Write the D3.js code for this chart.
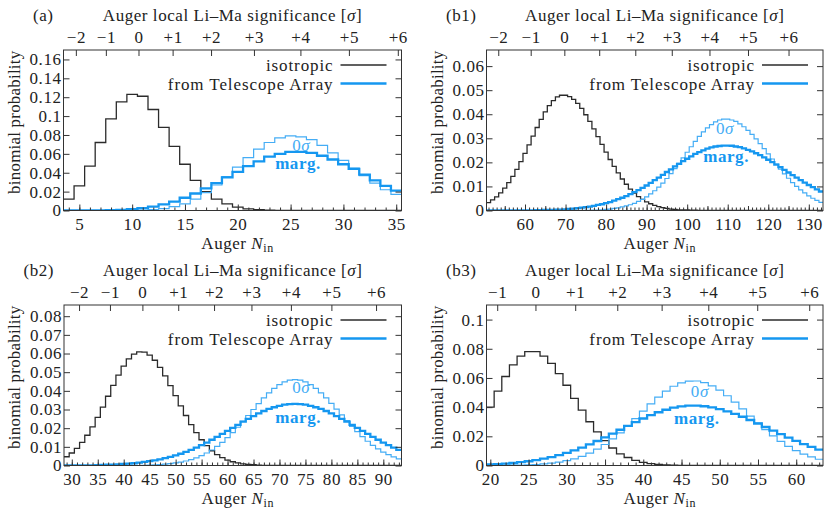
<!DOCTYPE html>
<html lang="en">
<head>
<meta charset="UTF-8">
<title>Auger N_in binomial probabilities</title>
<script src="https://d3js.org/d3.v7.min.js"></script>
<style>
  body { margin: 0; background: #fff; }
  svg text { font-family: "Liberation Serif", "DejaVu Serif", serif; font-size: 17px; letter-spacing: 0.55px; fill: #222; }
</style>
</head>
<body>
<svg id="chart" width="824" height="510"></svg>
<script>
// labels of the top (Li-Ma significance) axis, same in every panel
const sigmaLabels = ["−2", "−1", "0", "+1", "+2", "+3", "+4", "+5", "+6"];

// ---- panel (a): Auger N_in = 4 .. 35
const aFirstN = 4;
const aIso  = [0.012, 0.026, 0.047, 0.072, 0.097, 0.115, 0.123, 0.121, 0.107, 0.088, 0.068, 0.049, 0.032, 0.020, 0.012, 0.007,
               0.0035, 0.0017, 0.0008, 0.0003, 0.0001, 0, 0, 0, 0, 0, 0, 0, 0, 0, 0, 0];
const aZero = [0, 0, 0, 0, 0, 0, 0, 0.0004, 0.001, 0.002, 0.004, 0.007, 0.012, 0.019, 0.027, 0.036, 0.046, 0.056, 0.065, 0.072,
               0.077, 0.079, 0.078, 0.075, 0.069, 0.061, 0.053, 0.045, 0.037, 0.029, 0.022, 0.017];
const aMarg = [0, 0, 0, 0.0001, 0.0003, 0.0007, 0.0013, 0.0025, 0.004, 0.0065, 0.0095, 0.0135, 0.018, 0.0235, 0.029, 0.035,
               0.041, 0.047, 0.052, 0.057, 0.060, 0.062, 0.062, 0.061, 0.058, 0.054, 0.049, 0.044, 0.038, 0.032, 0.026, 0.021];
const aXTicks = [5, 10, 15, 20, 25, 30, 35];
const aYTicks = [0, 0.02, 0.04, 0.06, 0.08, 0.1, 0.12, 0.14, 0.16];
const aSigmaPos = [4.67, 7.51, 10.6, 13.83, 17.47, 21.53, 25.93, 30.52, 35.15];

// ---- panel (b1): Auger N_in = 51 .. 133
const b1FirstN = 51;
const b1Iso = [0.0033, 0.0044, 0.0057, 0.0073, 0.0093, 0.0116, 0.0142, 0.0171, 0.0203, 0.0237, 0.0273, 0.0309, 0.0345, 0.0379,
               0.0410, 0.0436, 0.0457, 0.0472, 0.0479, 0.0479, 0.0473, 0.0462, 0.0445, 0.0424, 0.0398, 0.0370, 0.0339, 0.0307,
               0.0275, 0.0243, 0.0212, 0.0183, 0.0156, 0.0131, 0.0109, 0.0089, 0.0072, 0.0058, 0.0046, 0.0036, 0.0028, 0.0021,
               0.0016, 0.0012, 0.0009, 0.0006, 0.0005, 0.0003, 0.0002, 0.0002, 0.0001, 0.0001,
               0, 0, 0, 0, 0, 0, 0, 0, 0, 0, 0, 0, 0, 0, 0, 0, 0, 0, 0, 0, 0, 0, 0, 0, 0, 0, 0, 0, 0, 0, 0];
const b1Zero = [0, 0, 0, 0, 0, 0, 0, 0, 0, 0, 0, 0, 0, 0, 0, 0, 0, 0, 0, 0, 0, 0, 0, 0,
               0.0001, 0.0001, 0.0002, 0.0002, 0.0003, 0.0005, 0.0006, 0.0009, 0.0011, 0.0015, 0.0019, 0.0024, 0.0030, 0.0038,
               0.0046, 0.0057, 0.0069, 0.0082, 0.0097, 0.0114, 0.0133, 0.0153, 0.0174, 0.0196, 0.0219, 0.0242, 0.0265, 0.0287,
               0.0308, 0.0327, 0.0343, 0.0357, 0.0368, 0.0376, 0.0380, 0.0380, 0.0376, 0.0370, 0.0360, 0.0348, 0.0333, 0.0316,
               0.0298, 0.0278, 0.0257, 0.0235, 0.0214, 0.0193, 0.0172, 0.0152, 0.0134, 0.0116, 0.0100, 0.0086, 0.0073, 0.0061,
               0.0051, 0.0042, 0.0034];
const b1Marg = [0, 0, 0, 0, 0, 0, 0, 0, 0, 0, 0, 0,
               0.0001, 0.0001, 0.0002, 0.0002, 0.0003, 0.0004, 0.0004, 0.0005, 0.0007, 0.0008, 0.0010, 0.0012, 0.0014, 0.0016,
               0.0019, 0.0023, 0.0026, 0.0031, 0.0035, 0.0041, 0.0047, 0.0053, 0.0060, 0.0068, 0.0076, 0.0085, 0.0094, 0.0104,
               0.0115, 0.0126, 0.0137, 0.0148, 0.0160, 0.0171, 0.0183, 0.0194, 0.0205, 0.0215, 0.0225, 0.0235, 0.0243, 0.0250,
               0.0257, 0.0262, 0.0266, 0.0268, 0.0270, 0.0270, 0.0269, 0.0266, 0.0263, 0.0258, 0.0252, 0.0246, 0.0238, 0.0230,
               0.0221, 0.0211, 0.0201, 0.0191, 0.0180, 0.0169, 0.0158, 0.0147, 0.0137, 0.0126, 0.0116, 0.0106, 0.0097, 0.0088,
               0.0079];
const b1XTicks = [60, 70, 80, 90, 100, 110, 120, 130];
const b1XMid = [55, 65, 75, 85, 95, 105, 115, 125];
const b1YTicks = [0, 0.01, 0.02, 0.03, 0.04, 0.05, 0.06];
const b1SigmaPos = [53.4, 61.4, 69.7, 78.3, 87.2, 96.2, 105.5, 115.0, 125.0];

// ---- panel (b2): Auger N_in = 29 .. 93
const b2FirstN = 29;
const b2Iso = [0.0047, 0.0067, 0.0092, 0.0124, 0.0162, 0.0207, 0.0258, 0.0313, 0.0371, 0.0429, 0.0484, 0.0532, 0.0571, 0.0597,
               0.0609, 0.0607, 0.0591, 0.0564, 0.0526, 0.0480, 0.0428, 0.0374, 0.0320, 0.0268, 0.0219, 0.0176, 0.0138, 0.0106,
               0.0079, 0.0058, 0.0042, 0.0029, 0.0020, 0.0014, 0.0009, 0.0006, 0.0004, 0.0002, 0.0001, 0.0001,
               0, 0, 0, 0, 0, 0, 0, 0, 0, 0, 0, 0, 0, 0, 0, 0, 0, 0, 0, 0, 0, 0, 0, 0, 0];
const b2Zero = [0, 0, 0, 0, 0, 0, 0, 0, 0, 0, 0, 0, 0, 0, 0,
               0.0001, 0.0002, 0.0004, 0.0005, 0.0007, 0.0010, 0.0014, 0.0018, 0.0024, 0.0032, 0.0041, 0.0053, 0.0067, 0.0083,
               0.0103, 0.0124, 0.0149, 0.0176, 0.0205, 0.0236, 0.0268, 0.0300, 0.0332, 0.0362, 0.0389, 0.0413, 0.0433, 0.0448,
               0.0457, 0.0460, 0.0457, 0.0448, 0.0433, 0.0413, 0.0389, 0.0362, 0.0333, 0.0302, 0.0271, 0.0240, 0.0210, 0.0181,
               0.0155, 0.0130, 0.0108, 0.0089, 0.0072, 0.0058, 0.0046, 0.0036];
const b2Marg = [0, 0.0001, 0.0001, 0.0001, 0.0001, 0.0001, 0.0002, 0.0003, 0.0004, 0.0005, 0.0006, 0.0008, 0.0010, 0.0012,
               0.0015, 0.0019, 0.0023, 0.0027, 0.0033, 0.0039, 0.0046, 0.0054, 0.0063, 0.0073, 0.0084, 0.0096, 0.0109, 0.0123,
               0.0138, 0.0153, 0.0169, 0.0185, 0.0202, 0.0218, 0.0235, 0.0250, 0.0265, 0.0279, 0.0292, 0.0303, 0.0312, 0.0320,
               0.0326, 0.0329, 0.0330, 0.0329, 0.0326, 0.0320, 0.0312, 0.0303, 0.0292, 0.0279, 0.0265, 0.0250, 0.0235, 0.0218,
               0.0202, 0.0185, 0.0169, 0.0153, 0.0138, 0.0123, 0.0109, 0.0096, 0.0084];
const b2XTicks = [30, 35, 40, 45, 50, 55, 60, 65, 70, 75, 80, 85, 90];
const b2YTicks = [0, 0.01, 0.02, 0.03, 0.04, 0.05, 0.06, 0.07, 0.08];
const b2SigmaPos = [31.4, 37.35, 43.6, 50.5, 57.4, 64.6, 72.2, 80.0, 88.6];

// ---- panel (b3): Auger N_in = 20 .. 63
const b3FirstN = 20;
const b3Iso = [0.040, 0.051, 0.061, 0.069, 0.075, 0.078, 0.078, 0.075, 0.070, 0.063, 0.055, 0.046, 0.038, 0.030, 0.023, 0.017,
               0.012, 0.008, 0.0055, 0.0035, 0.0022, 0.0013, 0.0008, 0.0004, 0.0002, 0.0001,
               0, 0, 0, 0, 0, 0, 0, 0, 0, 0, 0, 0, 0, 0, 0, 0, 0, 0];
const b3Zero = [0, 0.0001, 0.0001, 0.0002, 0.0003, 0.0005, 0.0007, 0.0011, 0.0016, 0.0023, 0.0033, 0.0046, 0.0063, 0.0085,
               0.0112, 0.0144, 0.0182, 0.0224, 0.0271, 0.0321, 0.0372, 0.0422, 0.0469, 0.0510, 0.0543, 0.0566, 0.0578, 0.0579,
               0.0568, 0.0546, 0.0516, 0.0478, 0.0435, 0.0388, 0.0339, 0.0291, 0.0246, 0.0203, 0.0165, 0.0131, 0.0102, 0.0078,
               0.0059, 0.0043];
const b3Marg = [0.0007, 0.0010, 0.0013, 0.0017, 0.0023, 0.0029, 0.0037, 0.0047, 0.0058, 0.0071, 0.0087, 0.0104, 0.0123, 0.0145,
               0.0168, 0.0193, 0.0218, 0.0245, 0.0271, 0.0297, 0.0322, 0.0345, 0.0365, 0.0382, 0.0396, 0.0405, 0.0410, 0.0410,
               0.0406, 0.0398, 0.0386, 0.0371, 0.0354, 0.0334, 0.0312, 0.0288, 0.0264, 0.0239, 0.0215, 0.0191, 0.0169, 0.0147,
               0.0127, 0.0109];
const b3XTicks = [20, 25, 30, 35, 40, 45, 50, 55, 60];
const b3YTicks = [0, 0.02, 0.04, 0.06, 0.08, 0.1];
const b3SigmaPos = [20.9, 25.9, 31.1, 36.6, 42.4, 48.5, 54.9, 61.7];
const b3SigmaLabels = ["−1", "0", "+1", "+2", "+3", "+4", "+5", "+6"];

const colIso = "#2b2b2b", colZero = "#45adf5", colMarg = "#1597f0";

const panels = [
  { id: "a",  label: "(a)",  firstN: aFirstN,  iso: aIso,  zero: aZero,  marg: aMarg,  yMax: 0.17,
    xTicks: aXTicks, xMid: [], yTicks: aYTicks, sigmaPos: aSigmaPos, sigmaLabels: sigmaLabels,
    left: 63.5, right: 401.5, top: 50, bottom: 210.5, zeroAt: [26.0, 0.069], margAt: [25.7, 0.0496] },
  { id: "b1", label: "(b1)", firstN: b1FirstN, iso: b1Iso, zero: b1Zero, marg: b1Marg, yMax: 0.0667,
    xTicks: b1XTicks, xMid: b1XMid, yTicks: b1YTicks, sigmaPos: b1SigmaPos, sigmaLabels: sigmaLabels,
    left: 486.5, right: 823, top: 50, bottom: 210.5, zeroAt: [109.3, 0.0343], margAt: [109.6, 0.0225] },
  { id: "b2", label: "(b2)", firstN: b2FirstN, iso: b2Iso, zero: b2Zero, marg: b2Marg, yMax: 0.086,
    xTicks: b2XTicks, xMid: [], yTicks: b2YTicks, sigmaPos: b2SigmaPos, sigmaLabels: sigmaLabels,
    left: 64, right: 401.5, top: 305, bottom: 465.5, zeroAt: [74.2, 0.0418], margAt: [73.6, 0.0256] },
  { id: "b3", label: "(b3)", firstN: b3FirstN, iso: b3Iso, zero: b3Zero, marg: b3Marg, yMax: 0.11,
    xTicks: b3XTicks, xMid: [], yTicks: b3YTicks, sigmaPos: b3SigmaPos, sigmaLabels: b3SigmaLabels,
    left: 486.5, right: 823, top: 305, bottom: 465.5, zeroAt: [47.4, 0.051], margAt: [47.0, 0.0323] }
];

const svg = d3.select("#chart");
const fmtY = d => d === 0 ? "0" : String(+d.toFixed(3));

function cleanAxis(g) {
  g.attr("font-family", null).attr("font-size", null);
  g.select(".domain").remove();
  g.selectAll(".tick line").attr("stroke", "#333");
}

function drawPanel(p) {
  const lastN = p.firstN + p.iso.length - 1;
  const x = d3.scaleLinear().domain([p.firstN - 0.5, lastN + 0.5]).range([p.left, p.right]);
  const y = d3.scaleLinear().domain([0, p.yMax]).range([p.bottom, p.top]);
  const midX = (p.left + p.right) / 2;

  svg.append("clipPath").attr("id", "clip-" + p.id)
    .append("rect")
    .attr("x", p.left).attr("y", p.top)
    .attr("width", p.right - p.left).attr("height", p.bottom - p.top);

  // step histograms
  const step = d3.line().x(d => x(d[0])).y(d => y(d[1])).curve(d3.curveStepAfter);
  const pts = vals => {
    const out = vals.map((v, i) => [p.firstN + i - 0.5, v]);
    out.push([lastN + 0.5, vals[vals.length - 1]]);
    return out;
  };
  const plot = svg.append("g").attr("clip-path", "url(#clip-" + p.id + ")");
  plot.append("path").attr("d", step(pts(p.iso)))
    .attr("fill", "none").attr("stroke", colIso).attr("stroke-width", 1.3);
  plot.append("path").attr("d", step(pts(p.zero)))
    .attr("fill", "none").attr("stroke", colZero).attr("stroke-width", 1.2);
  plot.append("path").attr("d", step(pts(p.marg)))
    .attr("fill", "none").attr("stroke", colMarg).attr("stroke-width", 2.3);

  // axes, all ticks pointing inward
  const minor = d3.range(p.firstN, lastN + 1);
  svg.append("g").attr("transform", `translate(0,${p.bottom})`)
    .call(d3.axisBottom(x).tickValues(minor).tickSize(-3).tickFormat(""))
    .call(cleanAxis);
  if (p.xMid.length) {
    svg.append("g").attr("transform", `translate(0,${p.bottom})`)
      .call(d3.axisBottom(x).tickValues(p.xMid).tickSize(-4.5).tickFormat(""))
      .call(cleanAxis);
  }
  svg.append("g").attr("transform", `translate(0,${p.bottom})`)
    .call(d3.axisBottom(x).tickValues(p.xTicks).tickSize(-6).tickPadding(7))
    .call(cleanAxis);
  svg.append("g").attr("transform", `translate(0,${p.top})`)
    .call(d3.axisTop(x).tickValues(p.sigmaPos).tickSize(-6).tickPadding(7.2)
      .tickFormat((d, i) => p.sigmaLabels[i]))
    .call(cleanAxis);
  svg.append("g").attr("transform", `translate(${p.left},0)`)
    .call(d3.axisLeft(y).tickValues(p.yTicks).tickSize(-6).tickPadding(2).tickFormat(fmtY))
    .call(cleanAxis);
  svg.append("g").attr("transform", `translate(${p.right},0)`)
    .call(d3.axisRight(y).tickValues(p.yTicks).tickSize(-6).tickFormat(""))
    .call(cleanAxis);

  // frame
  svg.append("rect")
    .attr("x", p.left).attr("y", p.top)
    .attr("width", p.right - p.left).attr("height", p.bottom - p.top)
    .attr("fill", "none").attr("stroke", "#333").attr("stroke-width", 1);

  // titles
  svg.append("text").attr("x", p.left - 10).attr("y", p.top - 29.5)
    .attr("text-anchor", "end").text(p.label);
  const tt = svg.append("text").attr("x", midX).attr("y", p.top - 29.5).attr("text-anchor", "middle");
  tt.append("tspan").text("Auger local Li–Ma significance [");
  tt.append("tspan").attr("font-style", "italic").text("σ");
  tt.append("tspan").text("]");

  const bt = svg.append("text").attr("x", midX + 5).attr("y", p.bottom + 38).attr("text-anchor", "middle");
  bt.append("tspan").text("Auger ");
  bt.append("tspan").attr("font-style", "italic").text("N");
  bt.append("tspan").attr("dy", 3).style("font-size", "12px").text("in");

  svg.append("text")
    .attr("transform", `translate(${p.left - 49.5},${(p.top + p.bottom) / 2 - 8}) rotate(-90)`)
    .attr("text-anchor", "middle").attr("dominant-baseline", "central")
    .style("letter-spacing", "0.2px")
    .text("binomial probability");

  // legend
  const lg = [
    { name: "isotropic", color: colIso, w: 1.3, ty: 20.5, ly: 15 },
    { name: "from Telescope Array", color: colMarg, w: 2.3, ty: 39.5, ly: 33.5 }
  ];
  lg.forEach(l => {
    svg.append("text").attr("x", p.right - 68).attr("y", p.top + l.ty)
      .attr("text-anchor", "end").style("letter-spacing", "0.9px").text(l.name);
    svg.append("line")
      .attr("x1", p.right - 61).attr("x2", p.right - 15)
      .attr("y1", p.top + l.ly).attr("y2", p.top + l.ly)
      .attr("stroke", l.color).attr("stroke-width", l.w);
  });

  // curve annotations
  const z = svg.append("text").attr("x", x(p.zeroAt[0])).attr("y", y(p.zeroAt[1]))
    .attr("text-anchor", "middle").attr("dominant-baseline", "central")
    .style("fill", colZero);
  z.append("tspan").text("0");
  z.append("tspan").attr("font-style", "italic").text("σ");
  svg.append("text").attr("x", x(p.margAt[0])).attr("y", y(p.margAt[1]))
    .attr("text-anchor", "middle").attr("dominant-baseline", "central")
    .attr("font-weight", "bold").style("fill", colMarg)
    .text("marg.");
}

panels.forEach(drawPanel);
</script>
</body>
</html>
